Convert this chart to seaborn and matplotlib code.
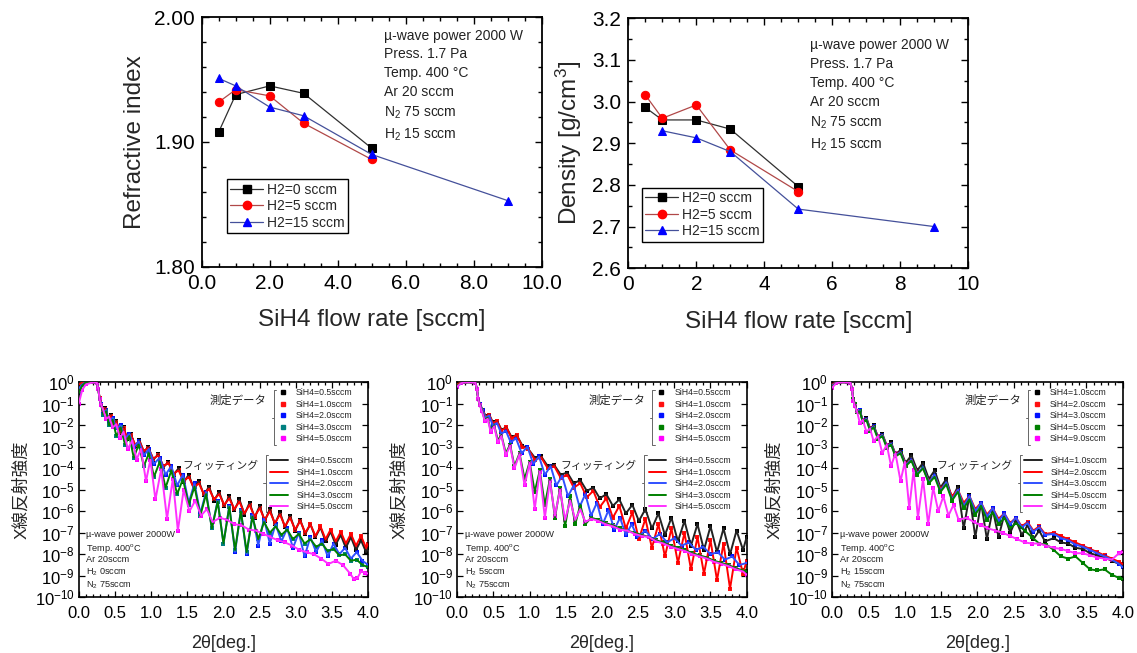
import numpy as np
import matplotlib
matplotlib.use("Agg")
import matplotlib.pyplot as plt
import seaborn as sns
from matplotlib.lines import Line2D
from matplotlib.ticker import MultipleLocator, FixedLocator, NullLocator, FuncFormatter, FormatStrFormatter

sns.set_style("ticks")
plt.rcParams['font.family'] = ['Liberation Sans', 'Noto Sans CJK JP', 'DejaVu Sans']
plt.rcParams['mathtext.fontset'] = 'custom'
plt.rcParams['mathtext.rm'] = 'Liberation Sans'
plt.rcParams['mathtext.it'] = 'Liberation Sans:italic'
plt.rcParams['mathtext.bf'] = 'Liberation Sans:bold'
plt.rcParams['mathtext.default'] = 'regular'

# ---------------- top panels data ----------------
ri_x_h0 = [0.5, 1.0, 2.0, 3.0, 5.0]
ri_y_h0 = [1.908, 1.938, 1.945, 1.939, 1.895]
ri_x_h5 = [0.5, 1.0, 2.0, 3.0, 5.0]
ri_y_h5 = [1.932, 1.942, 1.937, 1.915, 1.886]
ri_x_h15 = [0.5, 1.0, 2.0, 3.0, 5.0, 9.0]
ri_y_h15 = [1.951, 1.945, 1.928, 1.921, 1.890, 1.853]

den_x_h0 = [0.5, 1.0, 2.0, 3.0, 5.0]
den_y_h0 = [2.986, 2.956, 2.956, 2.934, 2.796]
den_x_h5 = [0.5, 1.0, 2.0, 3.0, 5.0]
den_y_h5 = [3.016, 2.960, 2.992, 2.884, 2.784]
den_x_h15 = [1.0, 2.0, 3.0, 5.0, 9.0]
den_y_h15 = [2.930, 2.913, 2.880, 2.742, 2.700]

h2_labels = ["H2=0 sccm", "H2=5 sccm", "H2=15 sccm"]
cond_text = ["µ-wave power 2000 W", "Press. 1.7 Pa", "Temp. 400 °C", "Ar 20 sccm",
             "N$_2$ 75 sccm", "H$_2$ 15 sccm"]

# ---------------- XRR data (2theta [deg], log10 intensity) ----------------
# panel 1 : H2 0 sccm
p1_x_a = [0.00, 0.05, 0.10, 0.20, 0.25, 0.27, 0.29, 0.31,
          0.34, 0.37, 0.40, 0.44, 0.48, 0.52, 0.57, 0.62, 0.67, 0.72, 0.78, 0.84, 0.90, 0.96,
          1.03, 1.10, 1.17, 1.24, 1.31, 1.38, 1.45, 1.52, 1.59, 1.66, 1.73, 1.80, 1.87, 1.94,
          2.01, 2.08, 2.15, 2.22, 2.29, 2.36, 2.43, 2.50, 2.57, 2.64, 2.71, 2.78, 2.85, 2.92,
          2.99, 3.06, 3.13, 3.20, 3.27, 3.34, 3.41, 3.48, 3.55, 3.62, 3.69, 3.76, 3.83, 3.90,
          3.97, 4.00]
p1_log_05 = [-0.05, 0.0, 0.0, 0.0, -0.02, -0.3, -0.75, -1.0,
             -1.4, -1.2, -1.7, -1.5, -2.0, -1.8, -2.35, -2.1, -2.65, -2.4, -2.95, -2.7, -3.25, -3.0,
             -3.6, -3.35, -3.95, -3.7, -4.3, -4.0, -4.65, -4.3, -4.95, -4.6, -5.25, -4.85, -5.5, -5.1,
             -5.75, -5.3, -5.95, -5.45, -6.15, -5.6, -6.3, -5.75, -6.45, -5.9, -6.6, -6.05, -6.75, -6.2,
             -6.9, -6.4, -7.05, -6.6, -7.2, -6.75, -7.4, -6.95, -7.55, -7.1, -7.7, -7.2, -7.8, -7.35,
             -7.9, -7.7]
p1_log_10 = [-0.1, -0.02, 0.0, 0.0, -0.02, -0.3, -0.75, -1.0,
             -1.35, -1.25, -1.65, -1.55, -1.95, -1.85, -2.3, -2.15, -2.6, -2.45, -2.9, -2.75, -3.2, -3.05,
             -3.55, -3.4, -3.9, -3.75, -4.25, -4.1, -4.6, -4.4, -4.9, -4.7, -5.2, -4.95, -5.45, -5.2,
             -5.7, -5.4, -5.9, -5.55, -6.1, -5.7, -6.25, -5.85, -6.4, -6.0, -6.55, -6.15, -6.7, -6.3,
             -6.85, -6.45, -7.0, -6.6, -7.15, -6.7, -7.3, -6.85, -7.4, -6.95, -7.5, -7.05, -7.6, -7.15,
             -7.7, -7.5]
p1_x_c = [0.00, 0.05, 0.10, 0.20, 0.25, 0.27, 0.29, 0.31,
          0.34, 0.38, 0.42, 0.47, 0.52, 0.58, 0.64, 0.70, 0.76, 0.83, 0.90, 0.97,
          1.04, 1.12, 1.20, 1.28, 1.36, 1.44, 1.52, 1.60, 1.68, 1.76,
          1.84, 1.92, 2.00, 2.08, 2.16, 2.24, 2.32, 2.40, 2.48, 2.56,
          2.64, 2.72, 2.80, 2.88, 2.96, 3.04, 3.12, 3.20, 3.28, 3.36,
          3.44, 3.52, 3.60, 3.68, 3.76, 3.84, 3.92, 4.00]
p1_log_20 = [-0.3, -0.1, 0.0, 0.0, -0.02, -0.3, -0.8, -1.0,
             -1.4, -1.3, -1.8, -1.65, -2.15, -2.0, -2.6, -2.4, -3.0, -2.75, -3.4, -3.1,
             -3.8, -3.5, -4.3, -3.9, -4.8, -4.3, -5.6, -4.7, -6.1, -5.1,
             -6.8, -5.5, -7.5, -5.75, -7.9, -5.95, -8.0, -6.15, -7.6, -6.35,
             -7.5, -6.6, -7.4, -6.8, -7.7, -7.0, -8.1, -7.2, -7.9, -7.35,
             -8.1, -7.5, -8.0, -7.7, -8.2, -7.9, -8.3, -8.5]
p1_log_30 = [-0.5, -0.15, 0.0, 0.0, -0.02, -0.3, -0.8, -1.05,
             -1.5, -1.35, -2.0, -1.75, -2.5, -2.1, -2.9, -2.5, -3.5, -2.9, -3.9, -3.3,
             -4.4, -3.7, -4.9, -4.1, -5.2, -4.5, -5.7, -4.85, -6.2, -5.2,
             -6.8, -5.55, -7.5, -5.8, -7.8, -6.0, -7.9, -6.25, -7.3, -6.5,
             -7.0, -6.7, -7.1, -6.85, -7.3, -7.05, -7.5, -7.3, -7.65, -7.5,
             -7.85, -7.75, -8.05, -8.0, -8.3, -8.25, -8.5, -8.6]
p1_x_d = [0.00, 0.05, 0.10, 0.20, 0.25, 0.27, 0.29, 0.31,
          0.34, 0.38, 0.42, 0.47, 0.52, 0.57, 0.62, 0.68, 0.74, 0.80,
          0.86, 0.93, 0.99, 1.06, 1.14, 1.22, 1.30, 1.37, 1.45, 1.53,
          1.61, 1.69, 1.77, 1.85,
          1.95, 2.05, 2.15, 2.25, 2.35, 2.45, 2.55, 2.65, 2.75, 2.85,
          2.95, 3.05, 3.15, 3.25, 3.35, 3.45, 3.55, 3.65, 3.75,
          3.80, 3.85, 3.90, 3.95, 4.00]
p1_log_50 = [-1.0, -0.35, -0.1, 0.0, -0.02, -0.3, -0.8, -1.05,
             -1.3, -1.7, -1.6, -2.1, -1.95, -2.6, -2.3, -3.1, -2.7, -3.6,
             -3.1, -4.6, -3.6, -5.45, -4.05, -6.35, -4.5, -6.9, -5.0, -6.0,
             -5.5, -6.2, -5.9, -6.5,
             -6.3, -6.4, -6.6, -6.65, -6.85, -6.9, -7.05, -7.2, -7.35, -7.45,
             -7.6, -7.8, -7.9, -8.0, -8.2, -8.45, -8.3, -8.5, -8.9,
             -9.15, -9.1, -8.8, -8.85, -8.9]

# panel 2 : H2 5 sccm
p2_x_a = [0.00, 0.05, 0.10, 0.20, 0.25, 0.27, 0.29, 0.31,
          0.35, 0.39, 0.44, 0.49, 0.55, 0.61, 0.68, 0.75, 0.82, 0.90,
          0.98, 1.07, 1.16, 1.25, 1.34, 1.43, 1.52, 1.61, 1.70, 1.79,
          1.88, 1.97, 2.06, 2.15, 2.24, 2.33, 2.42, 2.51, 2.60, 2.69,
          2.78, 2.87, 2.96, 3.05, 3.14, 3.23, 3.32, 3.41, 3.50, 3.59,
          3.68, 3.77, 3.86, 3.95, 4.00]
p2_log_05 = [-0.1, -0.02, 0.0, 0.0, -0.02, -0.3, -0.8, -1.0,
             -1.3, -1.55, -1.5, -1.85, -1.8, -2.2, -2.1, -2.55, -2.45, -2.95,
             -3.1, -3.5, -3.45, -3.9, -3.85, -4.3, -4.2, -4.7, -4.55, -5.05,
             -4.9, -5.4, -5.2, -5.75, -5.45, -6.1, -5.7, -6.45, -5.9, -6.8,
             -6.1, -7.1, -6.3, -7.4, -6.45, -7.6, -6.6, -7.8, -6.7, -7.9,
             -6.8, -8.0, -6.9, -7.8, -7.2]
p2_log_10 = [-0.1, -0.02, 0.0, 0.0, -0.02, -0.3, -0.8, -1.0,
             -1.3, -1.6, -1.5, -1.9, -1.8, -2.25, -2.1, -2.6, -2.45, -3.0,
             -3.1, -3.6, -3.5, -4.0, -3.9, -4.45, -4.3, -4.9, -4.7, -5.35,
             -5.05, -5.8, -5.4, -6.3, -5.75, -6.8, -6.05, -7.3, -6.35, -7.7,
             -6.6, -8.1, -6.8, -8.4, -7.0, -8.7, -7.2, -8.9, -7.35, -9.2,
             -7.5, -9.6, -7.7, -8.9, -8.3]
p2_x_c = [0.00, 0.05, 0.10, 0.20, 0.25, 0.27, 0.29, 0.31,
          0.35, 0.39, 0.44, 0.49, 0.55, 0.61, 0.67, 0.74, 0.81, 0.89, 0.97, 1.05,
          1.13, 1.21, 1.29, 1.37, 1.45, 1.53, 1.61, 1.69, 1.77, 1.85,
          1.93, 2.01, 2.09, 2.17, 2.25, 2.33, 2.41, 2.49,
          2.60, 2.70, 2.80, 2.90, 3.00, 3.10, 3.20, 3.30, 3.40, 3.50,
          3.60, 3.70, 3.80, 3.90, 4.00]
p2_log_20 = [-0.2, -0.05, 0.0, 0.0, -0.02, -0.3, -0.8, -1.0,
             -1.3, -1.65, -1.55, -2.0, -1.9, -2.4, -2.25, -2.8, -2.6, -3.3, -3.0, -3.8,
             -3.45, -4.3, -3.9, -4.8, -4.35, -5.3, -4.8, -5.8, -5.2, -6.2,
             -5.6, -6.6, -5.95, -6.85, -6.3, -7.1, -6.6, -7.2,
             -6.9, -7.3, -7.05, -7.45, -7.25, -7.6, -7.45, -7.8, -7.65, -8.0,
             -7.9, -8.25, -8.1, -8.5, -8.4]
p2_x_d = [0.00, 0.05, 0.10, 0.20, 0.25, 0.27, 0.29, 0.31,
          0.34, 0.38, 0.42, 0.46, 0.51, 0.56, 0.61, 0.67, 0.73, 0.79,
          0.86, 0.93, 1.00, 1.07, 1.14, 1.21, 1.28, 1.35, 1.42, 1.49,
          1.56, 1.63, 1.70, 1.77,
          1.85, 1.95, 2.05, 2.15, 2.25, 2.35, 2.45, 2.55, 2.65, 2.75,
          2.85, 2.95, 3.05, 3.15, 3.25, 3.35, 3.45, 3.55, 3.65, 3.75,
          3.85, 3.95, 4.00]
p2_log_30 = [-0.15, -0.05, 0.0, 0.0, -0.02, -0.3, -0.8, -1.05,
             -1.3, -1.75, -1.65, -2.2, -2.0, -2.7, -2.45, -3.3, -2.9, -3.9,
             -3.3, -4.5, -3.7, -5.1, -4.1, -5.7, -4.5, -6.3, -4.9, -6.7,
             -5.3, -6.6, -5.7, -6.6,
             -6.3, -6.4, -6.55, -6.65, -6.8, -6.9, -7.0, -7.1, -7.2, -7.35,
             -7.45, -7.6, -7.7, -7.8, -7.95, -8.05, -8.15, -8.3, -8.4, -8.5,
             -8.65, -8.75, -8.8]
p2_log_50 = [-0.2, -0.05, 0.0, 0.0, -0.02, -0.3, -0.8, -1.05,
             -1.35, -1.8, -1.7, -2.3, -2.05, -2.8, -2.5, -3.4, -2.95, -4.0,
             -3.35, -4.8, -3.75, -5.9, -4.15, -6.3, -4.6, -6.2, -5.0, -6.4,
             -5.5, -6.4, -5.9, -6.5,
             -6.35, -6.45, -6.6, -6.7, -6.85, -6.9, -7.05, -7.15, -7.2, -7.4,
             -7.5, -7.65, -7.75, -7.85, -8.0, -8.1, -8.2, -8.35, -8.45, -8.55,
             -8.7, -8.8, -8.95]

# panel 3 : H2 15 sccm
p3_x_a = [0.00, 0.05, 0.10, 0.20, 0.25, 0.27, 0.29, 0.31,
          0.34, 0.38, 0.42, 0.47, 0.52, 0.57, 0.63, 0.69, 0.75, 0.81, 0.87, 0.94,
          1.01, 1.09, 1.17, 1.25, 1.33, 1.41, 1.49, 1.57, 1.65, 1.73,
          1.81, 1.89, 1.97, 2.05, 2.13, 2.21, 2.29, 2.37, 2.45, 2.53,
          2.61, 2.69, 2.77, 2.85, 2.93,
          3.05, 3.15, 3.25, 3.35, 3.45, 3.55, 3.65, 3.75, 3.85, 3.95, 4.00]
p3_log_10 = [-0.1, -0.02, 0.0, 0.0, -0.02, -0.3, -0.8, -1.0,
             -1.4, -1.3, -1.8, -1.65, -2.15, -2.0, -2.55, -2.4, -2.95, -2.8, -3.35, -3.15,
             -3.75, -3.4, -4.1, -3.75, -4.5, -4.1, -4.9, -4.5, -5.4, -4.85,
             -6.8, -5.25, -7.2, -5.6, -7.3, -5.9, -7.2, -6.15, -7.0, -6.4,
             -7.1, -6.65, -7.3, -6.9, -7.4,
             -7.25, -7.45, -7.5, -7.7, -7.75, -7.95, -8.05, -8.15, -8.3, -8.45, -8.55]
p3_log_20 = [-0.1, -0.02, 0.0, 0.0, -0.02, -0.3, -0.8, -1.0,
             -1.4, -1.35, -1.8, -1.7, -2.15, -2.05, -2.55, -2.45, -2.95, -2.85, -3.35, -3.25,
             -3.8, -3.6, -4.2, -4.0, -4.6, -4.35, -4.95, -4.7, -5.3, -5.0,
             -5.6, -5.3, -5.9, -5.6, -6.15, -5.85, -6.35, -6.1, -6.55, -6.3,
             -6.7, -6.5, -6.9, -6.7, -7.05,
             -7.0, -7.15, -7.3, -7.45, -7.6, -7.75, -7.9, -8.05, -8.2, -8.35, -8.45]
p3_log_30 = [-0.15, -0.03, 0.0, 0.0, -0.02, -0.3, -0.8, -1.0,
             -1.4, -1.3, -1.85, -1.7, -2.2, -2.05, -2.6, -2.45, -3.0, -2.85, -3.4, -3.25,
             -3.85, -3.6, -4.25, -3.95, -4.65, -4.3, -5.05, -4.65, -5.45, -5.0,
             -5.75, -5.3, -6.0, -5.6, -6.25, -5.85, -6.45, -6.1, -6.6, -6.3,
             -6.75, -6.55, -6.95, -6.75, -7.1,
             -7.05, -7.25, -7.35, -7.55, -7.65, -7.8, -7.95, -8.1, -8.25, -8.45, -8.6]
p3_x_g = [0.00, 0.05, 0.10, 0.20, 0.25, 0.27, 0.29, 0.31,
          0.34, 0.38, 0.42, 0.47, 0.52, 0.57, 0.63, 0.69, 0.75, 0.81, 0.87, 0.94,
          1.01, 1.09, 1.17, 1.25, 1.33, 1.41, 1.49, 1.57, 1.65, 1.73,
          1.81, 1.89, 1.97, 2.05, 2.13, 2.21, 2.29, 2.37, 2.45, 2.53,
          2.65, 2.75, 2.85, 2.95, 3.05, 3.15, 3.25, 3.35, 3.45, 3.55,
          3.65, 3.75, 3.85, 3.95, 4.00]
p3_log_50 = [-0.2, -0.05, 0.0, 0.0, -0.02, -0.3, -0.8, -1.0,
             -1.4, -1.35, -1.85, -1.75, -2.25, -2.1, -2.65, -2.5, -3.05, -2.9, -3.45, -3.3,
             -3.9, -3.65, -4.3, -4.0, -4.7, -4.4, -5.1, -4.75, -5.5, -5.1,
             -5.85, -5.45, -6.15, -5.75, -6.4, -6.05, -6.6, -6.3, -6.8, -6.55,
             -6.9, -7.2, -7.5, -7.55, -7.8, -8.1, -8.2, -8.1, -8.4, -8.7,
             -8.75, -8.7, -8.95, -9.1, -9.15]
p3_x_p = [0.00, 0.05, 0.10, 0.20, 0.25, 0.27, 0.29, 0.31,
          0.34, 0.38, 0.42, 0.47, 0.52, 0.57, 0.63, 0.69, 0.75, 0.81,
          0.87, 0.94, 1.00, 1.06, 1.12, 1.18, 1.25, 1.32, 1.39, 1.46,
          1.53, 1.60, 1.67, 1.74,
          1.85, 1.95, 2.05, 2.15, 2.25, 2.35, 2.45, 2.55, 2.65, 2.75,
          2.85, 2.95, 3.05, 3.15, 3.25, 3.35, 3.45, 3.55, 3.65, 3.75,
          3.85, 3.95, 4.00]
p3_log_90 = [-0.25, -0.05, 0.0, 0.0, -0.02, -0.3, -0.85, -1.1,
             -1.35, -1.9, -1.75, -2.3, -2.15, -2.75, -2.5, -3.3, -2.9, -3.9,
             -3.3, -4.6, -3.7, -5.85, -4.1, -6.3, -4.5, -6.6, -4.9, -6.0,
             -5.3, -6.2, -5.7, -6.4,
             -6.3, -6.5, -6.65, -6.8, -6.9, -7.0, -7.15, -7.3, -7.45, -7.5,
             -7.5, -7.6, -7.7, -7.75, -7.85, -7.95, -7.95, -8.05, -8.15, -8.2,
             -8.25, -7.95, -7.9]

p12_labels = ["SiH4=0.5sccm", "SiH4=1.0sccm", "SiH4=2.0sccm", "SiH4=3.0sccm", "SiH4=5.0sccm"]
p3_labels = ["SiH4=1.0sccm", "SiH4=2.0sccm", "SiH4=3.0sccm", "SiH4=5.0sccm", "SiH4=9.0sccm"]
notes = [
    ["µ-wave power 2000W", "Temp. 400$^{\\rm o}$C", "Ar 20sccm", "H$_2$ 0sccm", "N$_2$ 75sccm"],
    ["µ-wave power 2000W", "Temp. 400$^{\\rm o}$C", "Ar 20sccm", "H$_2$ 5sccm", "N$_2$ 75sccm"],
    ["µ-wave power 2000W", "Temp. 400$^{\\rm o}$C", "Ar 20sccm", "H$_2$ 15sccm", "N$_2$ 75sccm"],
]

# ---------------- figure ----------------
fig = plt.figure(figsize=(11.37, 6.53), dpi=100)

top_styles = [
    dict(color='#303030', marker='s', markerfacecolor='black', markeredgecolor='black'),
    dict(color='#b04848', marker='o', markerfacecolor='#ff0000', markeredgecolor='#ff0000'),
    dict(color='#44509a', marker='^', markerfacecolor='#0000ff', markeredgecolor='#0000ff'),
]


def style_top(ax):
    for s in ax.spines.values():
        s.set_linewidth(1.3)
        s.set_color('black')
    ax.tick_params(which='both', direction='in', top=True, right=True, labelsize=15,
                   width=1.0, colors='black')
    ax.tick_params(which='major', length=5, pad=5)
    ax.tick_params(which='minor', length=3)


def top_panel(ax, series, ylabel, ylim, ymaj, ymin, yfmt, xfmt, legpos, textpos):
    for (xs, ys), st in zip(series, top_styles):
        sns.lineplot(x=xs, y=ys, ax=ax, estimator=None, sort=False, linewidth=0.9,
                     markersize=6, legend=False, **st)
    ax.set_xlim(0, 10)
    ax.set_ylim(*ylim)
    ax.xaxis.set_major_locator(MultipleLocator(2))
    ax.xaxis.set_minor_locator(MultipleLocator(0.5))
    ax.yaxis.set_major_locator(MultipleLocator(ymaj))
    ax.yaxis.set_minor_locator(MultipleLocator(ymin))
    ax.xaxis.set_major_formatter(FormatStrFormatter(xfmt))
    ax.yaxis.set_major_formatter(FormatStrFormatter(yfmt))
    style_top(ax)
    ax.set_xlabel("SiH4 flow rate [sccm]", fontsize=17.5, labelpad=12)
    ax.set_ylabel(ylabel, fontsize=17.5, labelpad=6)
    handles = [Line2D([0], [0], linewidth=0.9, markersize=6, **st) for st in top_styles]
    leg = ax.legend(handles, h2_labels, loc='lower left', bbox_to_anchor=legpos,
                    fontsize=10, frameon=True, fancybox=False, edgecolor='black',
                    framealpha=1, borderpad=0.25, labelspacing=0.18, handlelength=2.4,
                    handletextpad=0.25, borderaxespad=0)
    leg.get_frame().set_linewidth(1.0)
    ax.text(textpos[0], textpos[1], "\n".join(cond_text), transform=ax.transAxes,
            fontsize=10, va='top', ha='left', linespacing=1.45, color='#222222')


ax1 = fig.add_axes([0.1774, 0.5916, 0.2990, 0.3819])
top_panel(ax1, [(ri_x_h0, ri_y_h0), (ri_x_h5, ri_y_h5), (ri_x_h15, ri_y_h15)],
          "Refractive index", (1.80, 2.00), 0.1, 0.02, '%.2f', '%.1f',
          (0.0735, 0.135), (0.536, 0.955))

ax2 = fig.add_axes([0.5526, 0.5892, 0.2990, 0.3828])
top_panel(ax2, [(den_x_h0, den_y_h0), (den_x_h5, den_y_h5), (den_x_h15, den_y_h15)],
          "Density [g/cm$^3$]", (2.6, 3.2), 0.1, 0.05, '%.1f', '%d',
          (0.039, 0.1064), (0.534, 0.92))

# ---------------- bottom XRR panels ----------------
data_cols_1 = ['#000000', '#ff1010', '#0010ff', '#008080', '#ff00ff']
data_cols_23 = ['#000000', '#ff1010', '#0010ff', '#008000', '#ff00ff']
fit_cols = ['#222222', '#ff0000', '#3050ff', '#008000', '#ff30ff']


def exp_fmt(v, pos):
    return "$10^{%d}$" % int(round(np.log10(v)))


def xrr_panel(ax, series, labels, data_cols, note_lines):
    ax.set_yscale('log')
    for (xs, ls), dc, fc in zip(series, data_cols, fit_cols):
        yv = 10.0 ** np.asarray(ls)
        sns.scatterplot(x=xs, y=yv, ax=ax, color=dc, marker='s', s=9, linewidth=0,
                        legend=False, zorder=2)
        sns.lineplot(x=xs, y=yv, ax=ax, color=fc, linewidth=1.4, estimator=None,
                     sort=False, legend=False, zorder=3)
    ax.set_xlim(0, 4)
    ax.set_ylim(1e-10, 1)
    ax.xaxis.set_major_locator(MultipleLocator(0.5))
    ax.xaxis.set_minor_locator(MultipleLocator(0.1))
    ax.xaxis.set_major_formatter(FormatStrFormatter('%.1f'))
    ax.yaxis.set_major_locator(FixedLocator(10.0 ** np.arange(-10, 1)))
    ax.yaxis.set_minor_locator(NullLocator())
    ax.yaxis.set_major_formatter(FuncFormatter(exp_fmt))
    for s in ax.spines.values():
        s.set_linewidth(1.2)
        s.set_color('black')
    ax.tick_params(which='both', direction='in', top=True, right=True, labelsize=12,
                   colors='black', width=0.9)
    ax.tick_params(axis='x', which='major', length=4, pad=6)
    ax.tick_params(axis='y', which='major', length=4, pad=3)
    ax.tick_params(which='minor', length=2.2)
    ax.set_xlabel("2θ[deg.]", fontsize=13, labelpad=10)
    ax.set_ylabel("X線反射強度", fontsize=12.5, labelpad=4)

    dh = [Line2D([0], [0], marker='s', linestyle='none', color=c, markersize=2.6) for c in data_cols]
    fh = [Line2D([0], [0], color=c, linewidth=1.4) for c in fit_cols]
    leg1 = ax.legend(dh, labels, loc='upper left', bbox_to_anchor=(0.689, 0.972),
                     fontsize=6.3, frameon=False, borderpad=0, borderaxespad=0,
                     handlelength=1.0, handletextpad=1.0, labelspacing=0.28)
    ax.add_artist(leg1)
    ax.legend(fh, labels, loc='upper left', bbox_to_anchor=(0.661, 0.655),
              fontsize=6.3, frameon=False, borderpad=0, borderaxespad=0,
              handlelength=2.0, handletextpad=1.0, labelspacing=0.28)
    ax.text(0.65, 0.918, "測定データ", transform=ax.transAxes, ha='right', va='center',
            fontsize=8.2, color='#222222')
    ax.text(0.62, 0.612, "フィッティング", transform=ax.transAxes, ha='right', va='center',
            fontsize=7.8, color='#222222')
    # group brackets
    bk = dict(transform=ax.transAxes, color='#666666', linewidth=0.7, clip_on=False)
    ax.plot([0.682, 0.674, 0.674, 0.682], [0.964, 0.964, 0.709, 0.709], **bk)
    ax.plot([0.674, 0.666], [0.836, 0.836], **bk)
    ax.plot([0.654, 0.646, 0.646, 0.654], [0.662, 0.662, 0.398, 0.398], **bk)
    ax.plot([0.646, 0.638], [0.53, 0.53], **bk)
    for yy, t in zip([0.29, 0.228, 0.175, 0.117, 0.054], note_lines):
        ax.text(0.025, yy, t, transform=ax.transAxes, fontsize=6.6, ha='left',
                va='center', color='#222222')


bx1 = fig.add_axes([0.0692, 0.0853, 0.2547, 0.3293])
xrr_panel(bx1, [(p1_x_a, p1_log_05), (p1_x_a, p1_log_10), (p1_x_c, p1_log_20),
                (p1_x_c, p1_log_30), (p1_x_d, p1_log_50)], p12_labels, data_cols_1, notes[0])

bx2 = fig.add_axes([0.4022, 0.0853, 0.2545, 0.3293])
xrr_panel(bx2, [(p2_x_a, p2_log_05), (p2_x_a, p2_log_10), (p2_x_c, p2_log_20),
                (p2_x_d, p2_log_30), (p2_x_d, p2_log_50)], p12_labels, data_cols_23, notes[1])

bx3 = fig.add_axes([0.7320, 0.0853, 0.2554, 0.3293])
xrr_panel(bx3, [(p3_x_a, p3_log_10), (p3_x_a, p3_log_20), (p3_x_a, p3_log_30),
                (p3_x_g, p3_log_50), (p3_x_p, p3_log_90)], p3_labels, data_cols_23, notes[2])

fig.savefig("out.png", dpi=100)
